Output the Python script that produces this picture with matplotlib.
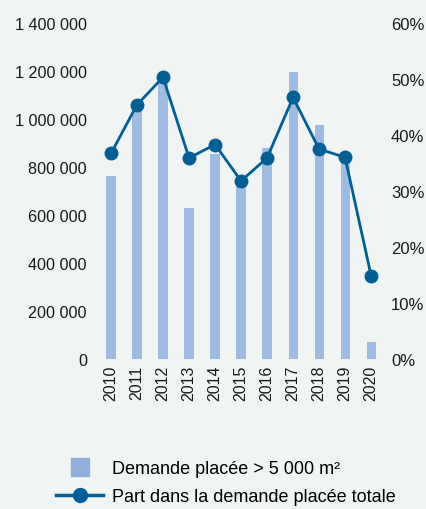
import numpy as np
import matplotlib.pyplot as plt
from matplotlib.lines import Line2D
from matplotlib.ticker import FuncFormatter

plt.rcParams["font.family"] = ["Liberation Sans", "DejaVu Sans"]

years = ["2010", "2011", "2012", "2013", "2014", "2015",
         "2016", "2017", "2018", "2019", "2020"]
demande = [762000, 1050000, 1165000, 630000, 855000, 740000,
           880000, 1197000, 975000, 830000, 70000]
part = [36.7, 45.4, 50.3, 35.9, 38.3, 31.8, 35.9, 46.7, 37.5, 36.0, 14.9]

BG = "#f0f4f3"
BAR = "#9dbbe3"
LINE = "#005f96"

fig = plt.figure(figsize=(4.27, 5.10), dpi=100, facecolor=BG)
ax = fig.add_axes([0.2295, 0.294, 0.67, 0.659])
ax.set_facecolor(BG)
ax2 = ax.twinx()

x = np.arange(len(years))
ax.bar(x, demande, width=0.35, color=BAR, zorder=1)
ax2.plot(x, part, color=LINE, lw=2, marker="o", ms=9)

ax.set_xlim(-0.5, len(years) - 0.5)
ax.set_ylim(0, 1400000)
ax.set_yticks(np.arange(0, 1400001, 200000))
ax.yaxis.set_major_formatter(FuncFormatter(lambda v, p: f"{int(v):,}".replace(",", " ")))
ax2.set_ylim(0, 60)
ax2.set_yticks(np.arange(0, 61, 10))
ax2.yaxis.set_major_formatter(FuncFormatter(lambda v, p: f"{int(v)}%"))

ax.set_xticks(x)
ax.set_xticklabels(years, rotation=90)

for a in (ax, ax2):
    for s in a.spines.values():
        s.set_visible(False)
    a.tick_params(length=0, labelsize=12, colors="#1a1a1a")
ax.tick_params(axis="y", pad=8, labelsize=11.6)
ax.tick_params(axis="x", pad=4, labelsize=11.5)
ax2.tick_params(axis="y", pad=5)

h_bar = Line2D([], [], ls="none", marker="s", ms=13, color="#8fb0dd",
               label="Demande placée > 5 000 m²")
h_line = Line2D([], [], color=LINE, lw=2.5, marker="o", ms=10,
                label="Part dans la demande placée totale")
fig.legend(handles=[h_bar, h_line], loc="lower center",
           bbox_to_anchor=(0.53, -0.024), frameon=False, fontsize=13,
           handlelength=2.6, labelspacing=0.6, handletextpad=0.5)

fig.savefig("out.png", dpi=100, facecolor=BG)
